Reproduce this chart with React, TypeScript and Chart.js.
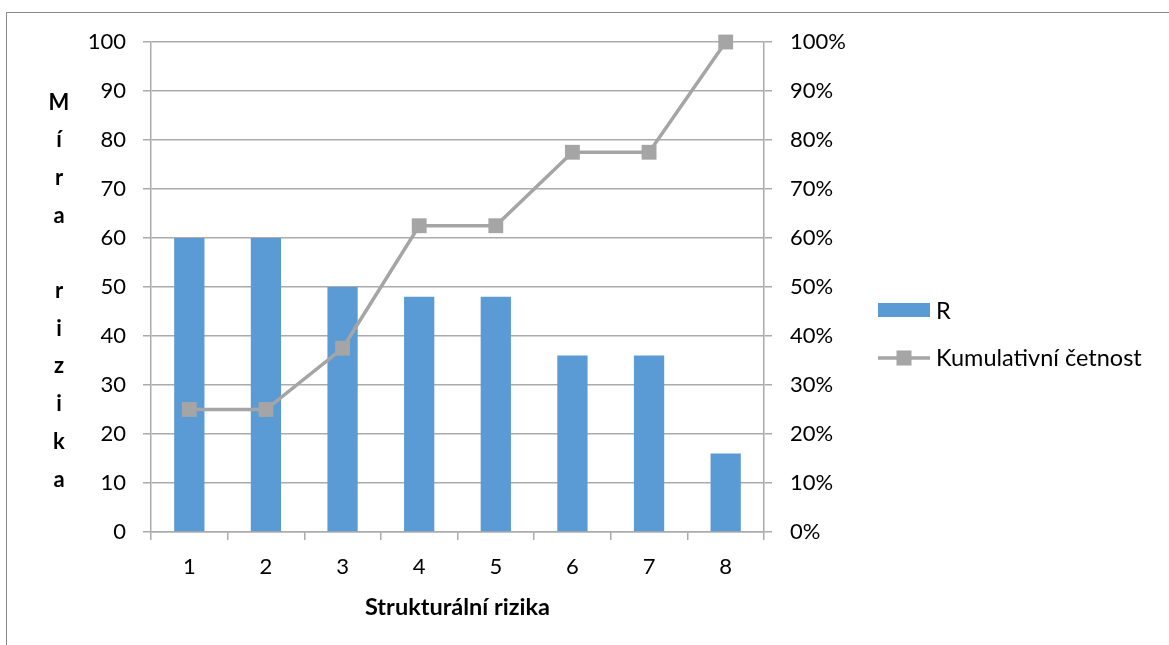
import React, { useEffect, useRef } from "react";
import { Chart, registerables } from "chart.js";

Chart.register(...registerables);

const categories = ["1", "2", "3", "4", "5", "6", "7", "8"];
const riskValues = [60, 60, 50, 48, 48, 36, 36, 16];
const cumulativePercent = [25, 25, 37.5, 62.5, 62.5, 77.5, 77.5, 100];
const barLabel = "R";
const lineLabel = "Kumulativní četnost";
const yTitleLetters = ["M", "í", "r", "a", "", "r", "i", "z", "i", "k", "a"];
const xTitle = "Strukturální rizika";

const FONT = "Lato, 'Open Sans', sans-serif";
const BAR_COLOR = "#5B9BD5";
const LINE_COLOR = "#A5A5A5";
const GRID_COLOR = "#ABABAB";

export default function App() {
  const canvasRef = useRef<HTMLCanvasElement | null>(null);

  useEffect(() => {
    const canvas = canvasRef.current;
    if (!canvas) return;

    const extrasPlugin = {
      id: "extras",
      afterDraw(chart: any) {
        const ctx = chart.ctx;
        const area = chart.chartArea;
        ctx.save();
        // stacked y title
        ctx.fillStyle = "#000";
        ctx.font = `bold 22px ${FONT}`;
        ctx.textAlign = "center";
        ctx.textBaseline = "middle";
        const step = 37.7;
        const midY = (area.top + area.bottom) / 2 + 4;
        const n = yTitleLetters.length;
        yTitleLetters.forEach((ch, i) => {
          const y = midY + (i - (n - 1) / 2) * step;
          ctx.fillText(ch, 59, y);
        });

        // legend
        const lx = 878;
        const lw = 52;
        const ds = chart.data.datasets;
        ctx.font = `23.5px ${FONT}`;
        ctx.textAlign = "left";
        // bar entry
        ctx.fillStyle = ds[0].backgroundColor;
        ctx.fillRect(lx, 303, lw, 14);
        ctx.fillStyle = "#000";
        ctx.fillText(ds[0].label, lx + lw + 6, 311);
        // line entry
        const ly = 358;
        ctx.strokeStyle = ds[1].borderColor;
        ctx.lineWidth = 3.5;
        ctx.beginPath();
        ctx.moveTo(lx, ly);
        ctx.lineTo(lx + lw, ly);
        ctx.stroke();
        ctx.fillStyle = ds[1].pointBackgroundColor;
        ctx.fillRect(lx + lw / 2 - 7.5, ly - 7.5, 15, 15);
        ctx.fillStyle = "#000";
        ctx.fillText(ds[1].label, lx + lw + 6, ly);
        ctx.restore();
      },
    };

    const chart = new Chart(canvas, {
      type: "bar",
      data: {
        labels: categories,
        datasets: [
          {
            type: "bar",
            label: barLabel,
            data: riskValues,
            backgroundColor: BAR_COLOR,
            borderWidth: 0,
            yAxisID: "y",
            categoryPercentage: 1,
            barPercentage: 0.395,
            order: 2,
          },
          {
            type: "line",
            label: lineLabel,
            data: cumulativePercent,
            borderColor: LINE_COLOR,
            backgroundColor: LINE_COLOR,
            pointBackgroundColor: LINE_COLOR,
            pointBorderColor: LINE_COLOR,
            borderWidth: 3.5,
            pointStyle: "rect",
            pointRadius: 10.5,
            pointBorderWidth: 0,
            tension: 0,
            clip: false,
            yAxisID: "y1",
            order: 1,
          } as any,
        ],
      },
      options: {
        responsive: false,
        animation: false,
        layout: { padding: { top: 42, left: 0, right: 0, bottom: 0 } },
        plugins: {
          legend: { display: false },
          tooltip: { enabled: false },
          title: { display: false },
        },
        scales: {
          x: {
            offset: true,
            grid: {
              display: true,
              offset: true,
              drawOnChartArea: false,
              drawTicks: true,
              tickLength: 8,
              color: GRID_COLOR,
              lineWidth: 1.5,
            },
            border: { display: true, color: GRID_COLOR, width: 1.5 },
            ticks: {
              color: "#000",
              font: { family: FONT, size: 22 },
              padding: 14,
              maxRotation: 0,
            },
            title: {
              display: true,
              text: xTitle,
              color: "#000",
              font: { family: FONT, size: 23.5, weight: "bold" },
              padding: { top: 0, bottom: 23 },
            },
            afterFit(scale: any) {
              scale.height = 113;
            },
          },
          y: {
            position: "left",
            min: 0,
            max: 100,
            ticks: {
              stepSize: 10,
              color: "#000",
              font: { family: FONT, size: 22 },
              padding: 17,
            },
            grid: {
              color: GRID_COLOR,
              lineWidth: 1.5,
              tickLength: 8,
            },
            border: { display: true, color: GRID_COLOR, width: 1.5 },
            afterFit(scale: any) {
              scale.width = 151;
            },
          },
          y1: {
            position: "right",
            min: 0,
            max: 100,
            ticks: {
              stepSize: 10,
              color: "#000",
              font: { family: FONT, size: 22 },
              padding: 18,
              callback: (v: any) => `${v}%`,
            },
            grid: {
              drawOnChartArea: false,
              color: GRID_COLOR,
              lineWidth: 1.5,
              tickLength: 8,
            },
            border: { display: true, color: GRID_COLOR, width: 1.5 },
            afterFit(scale: any) {
              scale.width = 405;
            },
          },
        },
      } as any,
      plugins: [extrasPlugin],
    });

    return () => chart.destroy();
  }, []);

  return (
    <div
      style={{
        position: "absolute",
        left: 0,
        top: 0,
        width: 1169,
        height: 645,
        background: "#fff",
        overflow: "hidden",
      }}
    >
      <div
        style={{
          position: "absolute",
          left: 6,
          top: 12,
          width: 1200,
          height: 700,
          borderTop: "1.5px solid #8A8A8A",
          borderLeft: "1.5px solid #8A8A8A",
        }}
      />
      <canvas
        ref={canvasRef}
        width={1169}
        height={645}
        style={{ position: "absolute", left: 0, top: 0, width: 1169, height: 645 }}
      />
    </div>
  );
}
